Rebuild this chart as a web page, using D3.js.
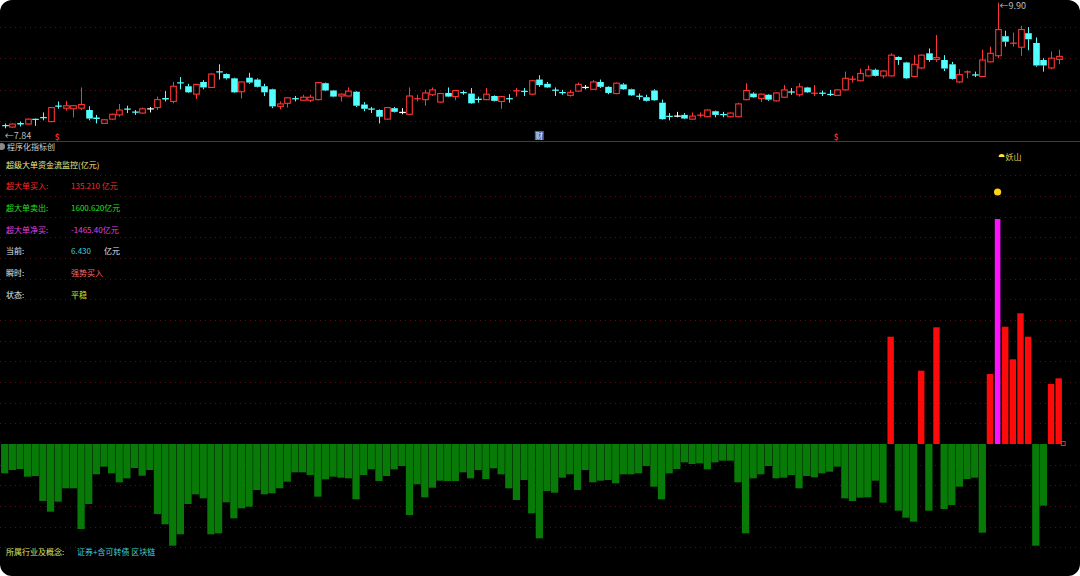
<!DOCTYPE html>
<meta charset="utf-8">
<script src="https://d3js.org/d3.v7.min.js"></script>
<style>
  body { margin: 0; background: #ffffff; }
  svg text { font-family: "Noto Sans CJK SC", "DejaVu Sans", sans-serif; }
</style>
<body>
<svg id="chart" width="1080" height="576"></svg>
<script>
// ---- daily candles (price) ----
var open  = [7.89,7.86,7.92,7.91,7.99,8.02,7.95,8.21,8.17,8.16,8.17,8.14,8.01,7.92,7.99,8.06,8.16,8.11,8.09,8.16,
             8.18,8.33,8.28,8.59,8.53,8.40,8.60,8.51,8.77,8.73,8.66,8.44,8.67,8.64,8.53,8.48,8.20,8.25,8.33,8.30,
             8.30,8.31,8.58,8.46,8.37,8.37,8.44,8.23,8.16,8.14,7.99,8.17,8.10,8.07,8.32,8.31,8.39,8.27,8.42,8.36,
             8.43,8.41,8.32,8.31,8.37,8.28,8.33,8.45,8.45,8.40,8.64,8.57,8.47,8.43,8.38,8.45,8.51,8.48,8.60,8.52,
             8.41,8.56,8.48,8.37,8.35,8.46,8.26,8.04,8.04,8.06,7.99,8.05,8.03,8.12,8.07,8.03,8.03,8.31,8.41,8.33,
             8.39,8.29,8.35,8.44,8.39,8.51,8.41,8.42,8.40,8.38,8.47,8.64,8.62,8.70,8.80,8.70,8.70,9.01,8.92,8.69,
             8.83,9.07,8.97,8.96,8.89,8.60,8.76,8.72,8.69,8.93,9.03,9.35,9.23,9.17,9.40,9.24,8.96,8.83,8.97];
var high  = [7.92,7.92,7.95,8.00,8.00,8.10,8.19,8.28,8.29,8.22,8.51,8.20,8.06,7.99,8.08,8.24,8.21,8.14,8.18,8.19,
             8.36,8.45,8.60,8.68,8.57,8.57,8.63,8.74,8.89,8.74,8.67,8.61,8.75,8.66,8.57,8.49,8.28,8.35,8.37,8.39,
             8.39,8.60,8.59,8.47,8.41,8.51,8.45,8.27,8.19,8.15,8.19,8.19,8.17,8.51,8.39,8.47,8.51,8.42,8.51,8.47,
             8.46,8.50,8.36,8.50,8.38,8.37,8.40,8.50,8.50,8.63,8.71,8.60,8.51,8.47,8.47,8.59,8.55,8.63,8.64,8.53,
             8.59,8.58,8.49,8.41,8.39,8.48,8.31,8.09,8.11,8.09,8.10,8.10,8.15,8.13,8.11,8.10,8.26,8.58,8.43,8.41,
             8.40,8.43,8.55,8.50,8.58,8.52,8.55,8.46,8.47,8.48,8.77,8.70,8.82,8.87,8.82,8.79,9.07,9.02,8.93,9.04,
             9.05,9.15,9.37,9.04,8.93,8.81,8.79,8.77,9.13,9.18,9.90,9.44,9.41,9.52,9.50,9.33,8.99,9.10,9.13];
var low   = [7.84,7.85,7.87,7.90,7.88,7.97,7.94,8.16,8.13,8.02,8.14,7.97,7.92,7.91,7.98,8.03,8.09,8.06,8.08,8.10,
             8.14,8.28,8.25,8.48,8.42,8.32,8.48,8.50,8.64,8.64,8.42,8.33,8.57,8.51,8.37,8.17,8.15,8.18,8.28,8.29,
             8.27,8.30,8.45,8.35,8.28,8.36,8.19,8.12,8.09,7.92,7.98,8.10,8.07,8.06,8.28,8.21,8.37,8.26,8.35,8.30,
             8.39,8.24,8.26,8.30,8.28,8.16,8.26,8.36,8.37,8.39,8.52,8.50,8.37,8.39,8.36,8.44,8.48,8.47,8.50,8.40,
             8.40,8.47,8.37,8.31,8.28,8.29,7.98,7.97,8.02,7.99,7.98,8.02,8.02,8.02,8.02,8.02,8.02,8.30,8.34,8.27,
             8.29,8.28,8.34,8.39,8.36,8.42,8.37,8.37,8.37,8.37,8.46,8.59,8.61,8.69,8.69,8.66,8.69,8.88,8.65,8.68,
             8.81,8.93,8.93,8.78,8.64,8.58,8.66,8.68,8.68,8.92,8.99,9.18,9.18,9.03,9.12,8.85,8.77,8.81,8.89];
var close = [7.88,7.91,7.91,7.99,7.98,8.01,8.18,8.20,8.21,8.21,8.23,8.00,8.00,7.98,8.07,8.14,8.15,8.10,8.16,8.16,
             8.31,8.32,8.53,8.58,8.43,8.56,8.51,8.73,8.76,8.66,8.43,8.60,8.59,8.52,8.43,8.20,8.24,8.34,8.32,8.35,
             8.35,8.59,8.46,8.36,8.40,8.45,8.21,8.16,8.15,8.03,8.18,8.11,8.10,8.37,8.33,8.42,8.47,8.41,8.36,8.46,
             8.42,8.25,8.31,8.40,8.29,8.36,8.32,8.46,8.44,8.62,8.55,8.51,8.46,8.42,8.43,8.56,8.51,8.60,8.52,8.42,
             8.58,8.48,8.38,8.36,8.29,8.30,7.99,8.03,8.04,8.00,8.04,8.06,8.14,8.06,8.06,8.09,8.24,8.46,8.35,8.40,
             8.31,8.42,8.47,8.43,8.52,8.43,8.42,8.41,8.39,8.47,8.66,8.65,8.74,8.80,8.70,8.78,9.04,8.96,8.66,8.89,
             9.04,8.96,9.00,8.82,8.65,8.72,8.77,8.71,8.96,9.07,9.46,9.26,9.24,9.46,9.30,8.87,8.87,8.99,9.02];
var priceGrid = [7.96, 8.47, 8.99, 9.50];

// ---- super-large order flow (histogram) ----
var flow = [-29.3,-26,-25,-32.7,-32,-57,-67.7,-57.7,-44.3,-44.3,-85,-60,-30.3,-22.7,-29.3,-38.3,-34.3,-24,-31.7,-26,
            -70,-80.3,-101.7,-90.3,-60,-50.3,-54.3,-90.3,-89.3,-58.3,-74.3,-64.3,-62.7,-46,-50.3,-49.3,-44.3,-37.7,-28.3,-28.3,
            -31,-52.7,-35.3,-32.7,-33.7,-34.3,-55.3,-31,-25.3,-37,-32,-25.3,-22,-71,-40.3,-53.3,-43.7,-36.7,-37,-37,
            -28.3,-34.3,-26,-35,-24.3,-30.3,-44.3,-56,-36,-69.3,-94.3,-47,-48.7,-33.7,-30.3,-46,-26,-38.3,-36.7,-36,
            -39.3,-30.3,-30.3,-29.3,-22,-42.7,-55.3,-29.3,-25,-18.3,-20,-19.3,-25.3,-18.3,-16.7,-16.7,-38.3,-89.3,-34.3,-30.3,
            -22,-34.3,-33.7,-31,-44.3,-32,-33.3,-29.3,-27.7,-22.7,-54.3,-57,-53.7,-53.3,-36.7,-58.7,107.3,-66.7,-73.7,-77.7,
            73.3,-66.7,116.7,-65,-61,-42.7,-35,-33.7,-88.7,70,225,117.3,84.7,130.7,107.3,-101.7,-61.7,60,65.7];
var flowGridStep = 20.67;
var signalIdx = 130, signalValue = 252;

// ---- markers and texts ----
var markerIdx = [7, 70, 109];
var markerText = ["$", "财", "$"];
var infoLabels = ["超大单买入:", "超大单卖出:", "超大单净买:", "当前:", "瞬时:", "状态:"];
var infoValues = ["135.210 亿元", "1600.620亿元", "-1465.40亿元", "6.430", "强势买入", "平稳"];
var labelColors = ["#ff2a2a", "#22e022", "#e040e0", "#e6e6e6", "#e6e6e6", "#e6e6e6"];
var valueColors = ["#ff2a2a", "#22e022", "#e040e0", "#40d0d0", "#ff6a6a", "#e8e020"];

var svg = d3.select("#chart"),
    W = 1080, H = 576, split = 141;

svg.append("clipPath").attr("id", "clip")
   .append("rect").attr("width", W).attr("height", H).attr("rx", 12);
var root = svg.append("g").attr("clip-path", "url(#clip)");
root.append("rect").attr("width", W).attr("height", H).attr("fill", "#000");

var n = open.length;
var x = d3.scaleLinear().domain([0, n - 1]).range([4.7, 1058.7]);
var step = x(1) - x(0);
var yP = d3.scaleLinear().domain([7.84, 9.90]).range([128.3, 2.7]);
var yH = d3.scaleLinear().domain([-132, 303]).range([576, 141]);

// grids (dim dotted)
root.selectAll(".pgrid").data(priceGrid).enter().append("line")
   .attr("x1", 0).attr("x2", W)
   .attr("y1", d => Math.round(yP(d)) + 0.5).attr("y2", d => Math.round(yP(d)) + 0.5)
   .attr("stroke", "#561212").attr("stroke-dasharray", "1,4");

var hTicks = d3.range(-5, 14).filter(k => k !== 0);
root.selectAll(".hgrid").data(hTicks).enter().append("line")
   .attr("x1", 0).attr("x2", W)
   .attr("y1", k => Math.round(yH(k * flowGridStep)) + 0.5)
   .attr("y2", k => Math.round(yH(k * flowGridStep)) + 0.5)
   .attr("stroke", "#561212").attr("stroke-dasharray", "1,4");

root.append("line").attr("x1", 0).attr("x2", W)
   .attr("y1", split + 0.5).attr("y2", split + 0.5)
   .attr("stroke", "#a01414").attr("stroke-width", 1);

// candles
var bw = 5.6;
function candleColor(i) {
  if (close[i] > open[i]) return "#ff3434";
  if (close[i] < open[i]) return "#54ffff";
  return "#ffffff";
}
var candles = root.append("g").selectAll("g").data(d3.range(n)).enter().append("g");
candles.each(function (i) {
  var g = d3.select(this), c = candleColor(i), cx = Math.round(x(i)) + 0.5;
  var top = yP(Math.max(open[i], close[i])), bot = yP(Math.min(open[i], close[i]));
  if (bot - top < 1.2) {
    var ym = (top + bot) / 2;
    g.append("line").attr("x1", cx).attr("x2", cx).attr("y1", yP(high[i])).attr("y2", yP(low[i]))
     .attr("stroke", c);
    g.append("line").attr("x1", cx - bw / 2 - 0.5).attr("x2", cx + bw / 2 + 0.5).attr("y1", ym).attr("y2", ym)
     .attr("stroke", c).attr("stroke-width", 1.3);
    return;
  }
  g.append("line").attr("x1", cx).attr("x2", cx).attr("y1", yP(high[i])).attr("y2", top).attr("stroke", c);
  g.append("line").attr("x1", cx).attr("x2", cx).attr("y1", bot).attr("y2", yP(low[i])).attr("stroke", c);
  if (close[i] > open[i]) {
    g.append("rect").attr("x", cx - bw / 2).attr("y", top).attr("width", bw).attr("height", bot - top)
     .attr("fill", "none").attr("stroke", c).attr("stroke-width", 1.1);
  } else {
    g.append("rect").attr("x", cx - bw / 2 - 0.5).attr("y", top).attr("width", bw + 1).attr("height", bot - top)
     .attr("fill", c);
  }
});

// high / low labels
var iLow = d3.minIndex(low), iHigh = d3.maxIndex(high);
root.append("text").attr("x", x(iLow)).attr("y", yP(low[iLow]) + 3).attr("dominant-baseline", "hanging")
   .attr("fill", "#bdbdbd").attr("font-size", 9).text("←" + d3.format(".2f")(low[iLow]));
root.append("text").attr("x", x(iHigh) + 2).attr("y", yP(high[iHigh]) + 3).attr("dominant-baseline", "central")
   .attr("fill", "#bdbdbd").attr("font-size", 9).text("←" + d3.format(".2f")(high[iHigh]));

// event markers under candles
markerIdx.forEach(function (i, k) {
  if (markerText[k] === "财") {
    root.append("rect").attr("x", x(i) - 4.5).attr("y", 131).attr("width", 9).attr("height", 9)
       .attr("fill", "#3f62a8");
    root.append("text").attr("x", x(i)).attr("y", 135.5).attr("text-anchor", "middle")
       .attr("dominant-baseline", "central").attr("fill", "#e8eeff").attr("font-size", 7.5).text("财");
  } else {
    root.append("text").attr("x", x(i) - 1).attr("y", 136.5).attr("text-anchor", "middle")
       .attr("dominant-baseline", "central").attr("fill", "#ff2a2a").attr("font-size", 8)
       .attr("font-weight", "bold").text(markerText[k]);
  }
});

// histogram
root.append("g").selectAll("rect").data(flow).enter().append("rect")
   .attr("x", (d, i) => d < 0 ? x(i) - step / 2 + 0.2 : x(i) - (d > 200 ? 2.8 : 3.2))
   .attr("width", d => d < 0 ? step - 0.4 : (d > 200 ? 5.6 : 6.4))
   .attr("y", d => d < 0 ? yH(0) : yH(d))
   .attr("height", d => Math.abs(yH(d) - yH(0)))
   .attr("fill", d => d < 0 ? "#077a07" : (d > 200 ? "#ff10ff" : "#ff0a0a"));

// end-of-series marker
root.append("rect").attr("x", x(n - 1) + 2.5).attr("y", yH(0) - 2.5).attr("width", 4).attr("height", 4)
   .attr("fill", "none").attr("stroke", "#ff2020").attr("stroke-width", 1);

// signal dot + tag
root.append("circle").attr("cx", x(signalIdx)).attr("cy", yH(signalValue)).attr("r", 3.6)
   .attr("fill", "#ffd21a");
root.append("path")
   .attr("d", d3.arc()({innerRadius: 0, outerRadius: 3, startAngle: -Math.PI / 2, endAngle: Math.PI / 2}))
   .attr("transform", "translate(" + (x(signalIdx) + 4) + ",157)").attr("fill", "#ffe04a");
root.append("text").attr("x", x(signalIdx) + 8).attr("y", 156).attr("dominant-baseline", "central")
   .attr("fill", "#e6d24a").attr("font-size", 8).text("妖山");

// panel texts
root.append("circle").attr("cx", 1.5).attr("cy", 146.5).attr("r", 3.5).attr("fill", "#8a8a8a");
root.append("text").attr("x", 7).attr("y", 146.5).attr("dominant-baseline", "central")
   .attr("fill", "#cfcfcf").attr("font-size", 8).text("程序化指标创");
root.append("text").attr("x", 6).attr("y", 164).attr("dominant-baseline", "central")
   .attr("fill", "#ecec8a").attr("font-size", 8).text("超级大单资金流监控(亿元)");

infoLabels.forEach(function (t, k) {
  var yy = 185.7 + k * 21.7;
  root.append("text").attr("x", 6).attr("y", yy).attr("dominant-baseline", "central")
     .attr("fill", labelColors[k]).attr("font-size", 8).text(t);
  root.append("text").attr("x", 71).attr("y", yy).attr("dominant-baseline", "central")
     .attr("fill", valueColors[k]).attr("font-size", 8).text(infoValues[k]);
});
root.append("text").attr("x", 104).attr("y", 185.7 + 3 * 21.7).attr("dominant-baseline", "central")
   .attr("fill", "#e6e6e6").attr("font-size", 8).text("亿元");

root.append("text").attr("x", 6).attr("y", 551).attr("dominant-baseline", "central")
   .attr("fill", "#e0e060").attr("font-size", 8).text("所属行业及概念:");
root.append("text").attr("x", 77).attr("y", 551).attr("dominant-baseline", "central")
   .attr("fill", "#40d0d0").attr("font-size", 8).text("证券+含可转债 区块链");
</script>
</body>
